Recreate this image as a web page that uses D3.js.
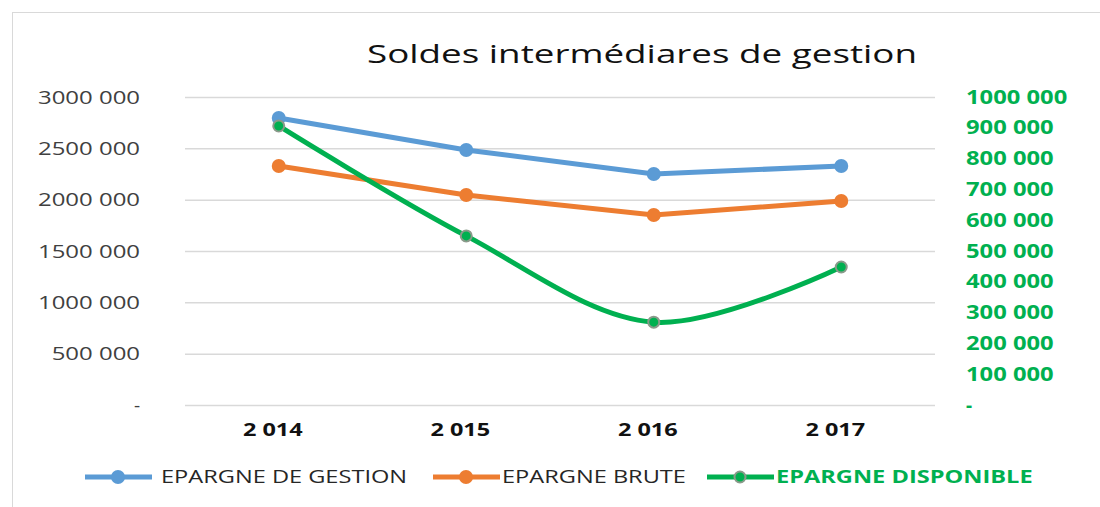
<!DOCTYPE html>
<meta charset="utf-8">
<style>
body { margin: 0; background: #fff; }
text { font-family: "Open Sans", sans-serif; }
</style>
<svg width="1100" height="507"></svg>
<script src="https://d3js.org/d3.v7.min.js"></script>
<script>

var years = ["2 014", "2 015", "2 016", "2 017"];
var gestion = [2795000, 2484000, 2250000, 2328000];
var brute = [2328000, 2045000, 1851000, 1987000];
var disponible = [906000, 549000, 269000, 448000];
var leftTicks = [0, 500000, 1000000, 1500000, 2000000, 2500000, 3000000];
var rightTicks = d3.range(0, 1000001, 100000);

var svg = d3.select("svg");

var fmt = function(d) {
  if (d === 0) return "-";
  var s = d3.format(",d")(d).replace(/,/g, " ");
  return s.replace(/^(\d) (\d{3}) /, "$1$2 ");
};

// the original text is wide, stretch it a bit
function stretch(sel, k) {
  sel.each(function() {
    var w = this.getComputedTextLength();
    if (w > 8) d3.select(this).attr("textLength", w * k).attr("lengthAdjust", "spacingAndGlyphs");
  });
}

svg.append("rect")
    .attr("x", 12.5).attr("y", 12.5)
    .attr("width", 1100).attr("height", 600)
    .attr("fill", "none").attr("stroke", "#d9d9d9");

var x = d3.scaleBand().domain(years).range([185, 935]);
var y = d3.scaleLinear().domain([0, 3000000]).range([405, 97]);
var y2 = d3.scaleLinear().domain([0, 1000000]).range([405, 97]);

svg.append("text")
    .attr("x", 642).attr("y", 63)
    .attr("text-anchor", "middle")
    .attr("font-size", 26)
    .attr("fill", "#111")
    .attr("textLength", 550)
    .attr("lengthAdjust", "spacingAndGlyphs")
    .text("Soldes intermédiares de gestion");

// grid
svg.append("g").selectAll("line")
  .data(leftTicks)
  .join("line")
    .attr("x1", 185).attr("x2", 935)
    .attr("y1", d => y(d) + 0.5).attr("y2", d => y(d) + 0.5)
    .attr("stroke", "#d9d9d9").attr("stroke-width", 1.5);

var ax = svg.append("g")
    .attr("transform", "translate(140,0)")
    .call(d3.axisLeft(y).tickValues(leftTicks).tickFormat(fmt).tickSize(0).tickPadding(0));
ax.select(".domain").remove();
ax.selectAll("text").attr("font-size", 19).attr("fill", "#404040")
    .attr("font-family", "Open Sans, sans-serif")
    .call(stretch, 1.26);

var ar = svg.append("g")
    .attr("transform", "translate(966,0)")
    .call(d3.axisRight(y2).tickValues(rightTicks).tickFormat(fmt).tickSize(0).tickPadding(0));
ar.select(".domain").remove();
ar.selectAll("text").attr("font-size", 19).attr("fill", "#00b050")
    .attr("font-weight", "bold")
    .attr("font-family", "Open Sans, sans-serif")
    .call(stretch, 1.25);

var axb = svg.append("g")
    .attr("transform", "translate(-6,405)")
    .call(d3.axisBottom(x).tickSize(0).tickPadding(19));
axb.select(".domain").remove();
axb.selectAll("text").attr("font-size", 17).attr("fill", "#111")
    .attr("font-weight", "bold")
    .attr("font-family", "Open Sans, sans-serif")
    .call(stretch, 1.38);

var cx = d => x(d) + x.bandwidth() / 2;

var series = [
  {name: "EPARGNE DE GESTION", values: gestion, scale: y, color: "#5b9bd5", stroke: "#5b9bd5", curve: d3.curveLinear},
  {name: "EPARGNE BRUTE", values: brute, scale: y, color: "#ed7d31", stroke: "#ed7d31", curve: d3.curveLinear},
  {name: "EPARGNE DISPONIBLE", values: disponible, scale: y2, color: "#00b050", stroke: "#8a9a8a", curve: d3.curveCatmullRom.alpha(0.5)}
];

series.forEach(function(s) {
  var line = d3.line()
      .x((d, i) => cx(years[i]))
      .y(d => s.scale(d))
      .curve(s.curve);
  svg.append("path")
      .datum(s.values)
      .attr("d", line)
      .attr("fill", "none")
      .attr("stroke", s.color)
      .attr("stroke-width", 5);
  svg.append("g").selectAll("circle")
    .data(s.values)
    .join("circle")
      .attr("cx", (d, i) => cx(years[i]))
      .attr("cy", d => s.scale(d))
      .attr("r", s.stroke === s.color ? 7 : 5.5)
      .attr("fill", s.color)
      .attr("stroke", s.stroke)
      .attr("stroke-width", s.stroke === s.color ? 0 : 2);
});

// legend
var legX = [85, 433, 707];
var leg = svg.append("g").selectAll("g")
  .data(series)
  .join("g")
    .attr("transform", (d, i) => "translate(" + legX[i] + ",477)");
leg.append("line")
    .attr("x1", 0).attr("x2", 67)
    .attr("stroke", d => d.color).attr("stroke-width", 5);
leg.append("circle")
    .attr("cx", 33).attr("r", (d) => d.stroke === d.color ? 7 : 5.5)
    .attr("fill", d => d.color)
    .attr("stroke", d => d.stroke)
    .attr("stroke-width", d => d.stroke === d.color ? 0 : 2);
leg.append("text")
    .attr("x", (d, i) => i === 0 ? 76 : 69)
    .attr("y", 0).attr("dy", "0.36em")
    .attr("font-size", 18)
    .attr("fill", (d, i) => i === 2 ? "#00b050" : "#262626")
    .attr("font-weight", (d, i) => i === 2 ? "bold" : "normal")
    .text(d => d.name)
    .call(stretch, 1.31);

</script>
